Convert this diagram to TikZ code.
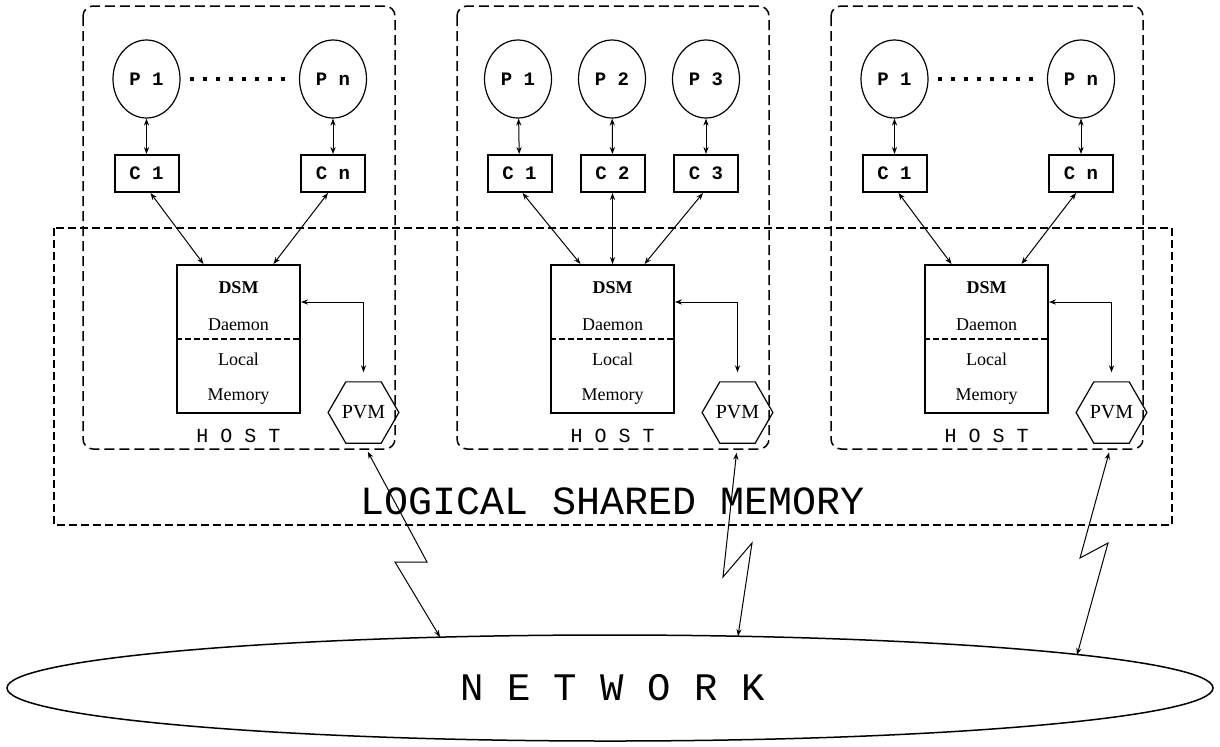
\documentclass[tikz,border=0pt]{standalone}
\usepackage{fontspec}
\setmainfont{Liberation Serif}
\setmonofont{Liberation Mono}
\usetikzlibrary{arrows.meta,calc,shapes.geometric}

\begin{document}
\begin{tikzpicture}[x=0.5pt, y=-0.5pt,
  hostbox/.style={draw, line width=0.75pt, dash pattern=on 5pt off 2.5pt, rounded corners=5pt},
  lsmbox/.style={draw, line width=0.7pt, dash pattern=on 4pt off 2pt},
  proc/.style={ellipse, draw, line width=0.6pt, minimum width=33.5pt, minimum height=39pt,
    inner sep=0pt, font=\ttfamily\bfseries\fontsize{9.5}{11}\selectfont},
  cache/.style={rectangle, draw, line width=1pt, minimum width=32pt, minimum height=18.5pt,
    inner sep=0pt, font=\ttfamily\bfseries\fontsize{9.5}{11}\selectfont},
  dsmbox/.style={rectangle, draw, line width=1pt, minimum width=61.5pt, minimum height=74pt},
  dsmtext/.style={anchor=base, inner sep=0pt, font=\fontsize{9}{10}\selectfont},
  pvm/.style={regular polygon, regular polygon sides=6, draw, line width=0.6pt,
    minimum size=33pt, inner sep=0pt, font=\fontsize{10}{12}\selectfont},
  link/.style={<->, >={Stealth[length=3.5pt,width=2.6pt]}, line width=0.5pt},
  dots/.style={line width=2pt, dash pattern=on 2pt off 4.5pt},
]
\useasboundingbox (0,0) rectangle (1220,746);

% ===== LOGICAL SHARED MEMORY =====
\draw[lsmbox] (54,228) rectangle (1172,525);
\node[anchor=base, font=\ttfamily\fontsize{20}{24}\selectfont] (lsmlabel) at (612.5,514)
  {LOGICAL SHARED MEMORY};

% ===== HOSTS (common parts) =====
\foreach \h/\dx in {a/0,b/374,c/748}{
  \begin{scope}[shift={(\dx,0)}]
    \draw[hostbox] (83,6) rectangle (395,449);
    \node[dsmbox] (dsm\h) at (238.5,339) {};
    \draw[line width=0.6pt, dash pattern=on 3pt off 1.5pt] (dsm\h.west) -- (dsm\h.east);
    \node[dsmtext, font=\bfseries\fontsize{9}{10}\selectfont] at (238.5,293) {DSM};
    \node[dsmtext] at (238.5,330) {Daemon};
    \node[dsmtext] at (238.5,365) {Local};
    \node[dsmtext] at (238.5,400) {Memory};
    \node[pvm] (pvm\h) at (363.5,412.5) {PVM};
    \node[anchor=base, font=\ttfamily\fontsize{10}{12}\selectfont] (host\h) at (238.5,442) {H O S T};
    \draw[link, shorten >=4.5pt] (dsm\h.east |- 0,302) -| (pvm\h.north);
  \end{scope}
}

% ===== HOST 1 =====
\node[proc] (p1a) at (146.5,79) {P 1};
\node[proc] (pna) at (333,79) {P n};
\node[cache] (c1a) at (146.5,173.5) {C 1};
\node[cache] (cna) at (333,173.5) {C n};
\draw[dots, shorten <=4.5pt, shorten >=3.5pt] (p1a) -- (pna);
\draw[link] (c1a) -- (p1a);
\draw[link] (cna) -- (pna);
\draw[link] ($(c1a.south)+(4,0)$) -- ($(dsma.north)+(-35,0)$);
\draw[link] ($(cna.south)+(-5,0)$) -- ($(dsma.north)+(35,0)$);

% ===== HOST 2 =====
\node[proc] (p1b) at (518,79) {P 1};
\node[proc] (p2b) at (612,79) {P 2};
\node[proc] (p3b) at (706,79) {P 3};
\node[cache] (c1b) at (519.5,173.5) {C 1};
\node[cache] (c2b) at (612.5,173.5) {C 2};
\node[cache] (c3b) at (706,173.5) {C 3};
\draw[link] (c1b) -- (p1b);
\draw[link] (c2b) -- (p2b);
\draw[link] (c3b) -- (p3b);
\draw[link] ($(c1b.south)+(3,0)$) -- ($(dsmb.north)+(-32,0)$);
\draw[link] (c2b) -- (dsmb);
\draw[link] ($(c3b.south)+(-3,0)$) -- ($(dsmb.north)+(32,0)$);

% ===== HOST 3 =====
\node[proc] (p1c) at (894.5,79) {P 1};
\node[proc] (pnc) at (1081,79) {P n};
\node[cache] (c1c) at (894.5,173.5) {C 1};
\node[cache] (cnc) at (1081,173.5) {C n};
\draw[dots, shorten <=4.5pt, shorten >=3.5pt] (p1c) -- (pnc);
\draw[link] (c1c) -- (p1c);
\draw[link] (cnc) -- (pnc);
\draw[link] ($(c1c.south)+(4,0)$) -- ($(dsmc.north)+(-35,0)$);
\draw[link] ($(cnc.south)+(-5,0)$) -- ($(dsmc.north)+(35,0)$);

% ===== NETWORK =====
\node[ellipse, draw, line width=0.75pt, minimum width=603pt, minimum height=53pt,
  inner sep=0pt, outer sep=0pt] (net) at (610,688) {};
\node[anchor=base, font=\ttfamily\fontsize{19.5}{22}\selectfont] (netlabel) at (612.5,700)
  {N E T W O R K};
\coordinate (neta) at (440,637);
\coordinate (netb) at (738,636);
\coordinate (netc) at (1077,655);
\draw[link, shorten <=4.5pt] (pvma.south) -- (427,562) -- (395,562) -- (neta);
\draw[link, shorten <=4.5pt] (pvmb.south) -- (723,577) -- (752,543) -- (netb);
\draw[link, shorten <=4.5pt] (pvmc.south) -- (1080,558) -- (1108,543) -- (netc);

\end{tikzpicture}
\end{document}
